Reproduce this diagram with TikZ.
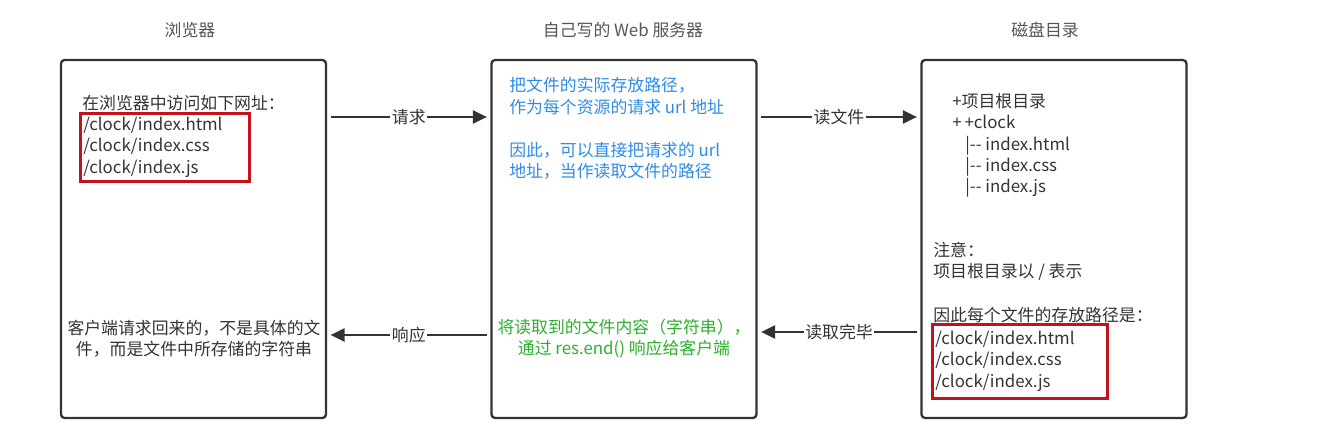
\documentclass[tikz,border=0pt]{standalone}
\usepackage{fontspec}
\setmainfont{Noto Sans CJK SC}
\usetikzlibrary{arrows.meta}
\definecolor{ink}{HTML}{333333}
\definecolor{title}{HTML}{555555}
\definecolor{hlred}{HTML}{C4121C}
\definecolor{srvblue}{HTML}{2F8BE6}
\definecolor{srvgreen}{HTML}{2DAF2D}

\begin{document}
\begin{tikzpicture}[x=0.02cm,y=-0.02cm,
 every node/.style={text=ink,font=\fontsize{9.6}{12.1}\selectfont,inner sep=0pt},
 box/.style={draw=ink,line width=1.3pt,rounded corners=2pt,minimum width=5.3cm,minimum height=7.16cm},
 head/.style={text=title},
 txt/.style={anchor=west,align=left},
 hl/.style={draw=hlred,line width=1.5pt,anchor=north west,align=left,inner xsep=0.06cm},
 arr/.style={-{Triangle[length=8pt,width=7.5pt]},ink,line width=1.2pt,shorten <=2pt,shorten >=2pt},
 lbl/.style={fill=white,inner xsep=1pt,inner ysep=2pt}]
\useasboundingbox (0,0) rectangle (1323,435);
\node[box] (browser) at (193.5,239) {};
\node[box] (server) at (624,239) {};
\node[box] (disk) at (1054,239) {};
\node[head] (browsertitle) at (190,30) {浏览器};
\node[head] (servertitle) at (623,30) {自己写的 Web 服务器};
\node[head] (disktitle) at (1045,30) {磁盘目录};
\node[txt] (visit) at (82,103) {在浏览器中访问如下网址：};
\node[hl,text width=3.26cm,minimum height=1.36cm] (urls) at (79,112) {/clock/index.html\\/clock/index.css\\/clock/index.js};
\node[align=center] (result) at (194,338.5) {客户端请求回来的，不是具体的文\\件，而是文件中所存储的字符串};
\node[txt,text=srvblue] (mapping) at (509,96) {把文件的实际存放路径，\\作为每个资源的请求 url 地址};
\node[txt,text=srvblue] (direct) at (509,161) {因此，可以直接把请求的 url\\地址，当作读取文件的路径};
\node[align=center,text=srvgreen] (reply) at (624,338.5) {将读取到的文件内容（字符串），\\通过 res.end() 响应给客户端};
\node[txt] (tree) at (952,145.5) {+项目根目录\\+\,+clock\\\hspace{0.26cm}|-{}- index.html\\\hspace{0.26cm}|-{}- index.css\\\hspace{0.26cm}|-{}- index.js};
\node[txt] (note) at (933,261) {注意：\\项目根目录以 / 表示};
\node[txt] (paths) at (933,315) {因此每个文件的存放路径是：};
\node[hl,text width=3.38cm,minimum height=1.48cm] (diskurls) at (931,323) {/clock/index.html\\/clock/index.css\\/clock/index.js};
\draw[arr] (browser.east|-0,117)--(server.west|-0,117) node[lbl,midway]{请求};
\draw[arr] (server.east|-0,117)--(disk.west|-0,117) node[lbl,midway]{读文件};
\draw[arr] (disk.west|-0,332)--(server.east|-0,332) node[lbl,midway]{读取完毕};
\draw[arr] (server.west|-0,335)--(browser.east|-0,335) node[lbl,midway]{响应};
\end{tikzpicture}
\end{document}
